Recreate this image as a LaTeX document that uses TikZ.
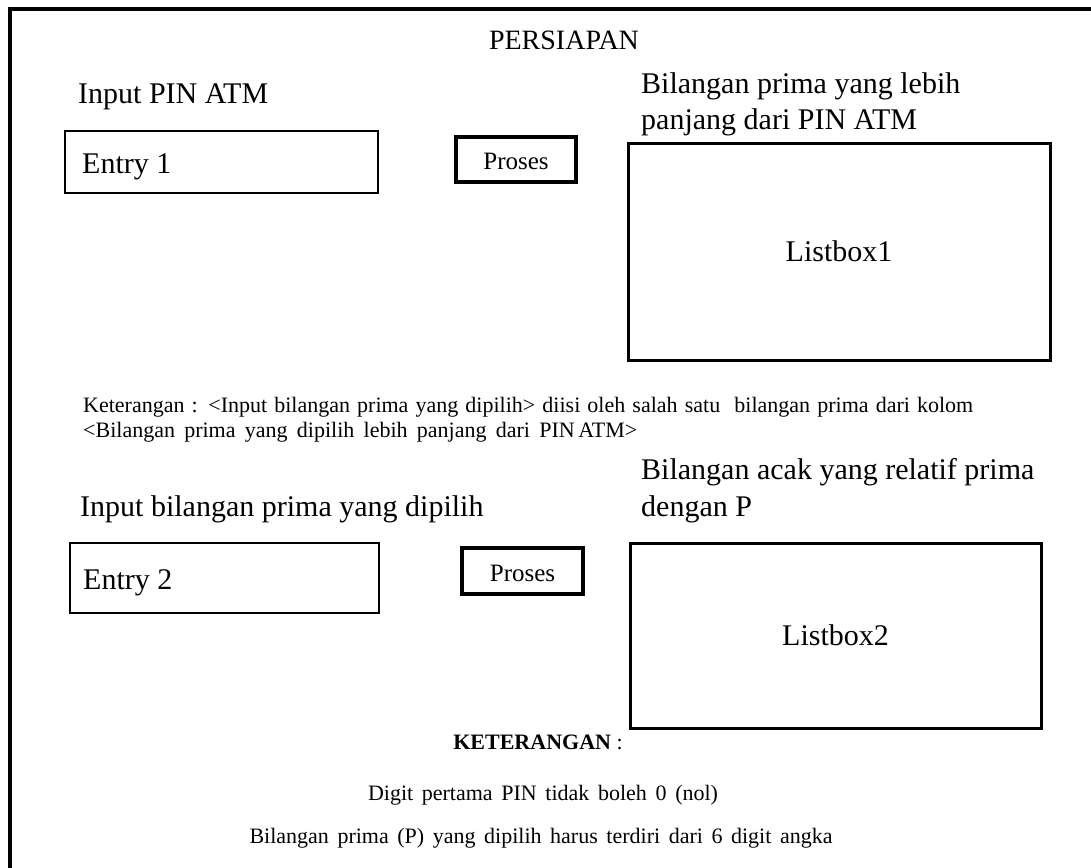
\documentclass[tikz,border=0pt]{standalone}
\usepackage{fontspec}
\setmainfont{Liberation Serif}
\begin{document}
\begin{tikzpicture}[x=1pt,y=-1pt,
  big/.style={inner sep=0pt, font=\fontsize{30}{36}\selectfont},
  mid/.style={inner sep=0pt, font=\fontsize{25}{30}\selectfont},
  small/.style={inner sep=0pt, font=\fontsize{22}{26}\selectfont},
  entrybox/.style={draw, line width=2pt, inner sep=0pt},
  btnbox/.style={draw, line width=3.5pt, inner sep=0pt},
  listbox/.style={draw, line width=3pt, inner sep=0pt, font=\fontsize{30}{36}\selectfont},
  frameline/.style={line width=4pt}]
\useasboundingbox (0,0) rectangle (1091,867);
\clip (0,0) rectangle (1091,867);
\fill[white] (0,0) rectangle (1091,867);

% outer window frame
\draw[frameline] (10,9.5) rectangle (1120,900);

\node[inner sep=0pt, font=\fontsize{28}{32}\selectfont, anchor=base] (title) at (564,49) {PERSIAPAN};

% first row
\node[big, anchor=base west] (lblpin) at (78,103) {Input PIN ATM};
\node[entrybox, minimum width=313pt, minimum height=62pt] (entry1) at (221.5,162) {};
\node[big, anchor=base west] (entry1txt) at (82,173) {Entry 1};
\node[btnbox, minimum width=120pt, minimum height=45pt] (btn1) at (516,159.5) {};
\node[mid, anchor=base] (btn1txt) at (516,169) {Proses};
\node[big, anchor=base west] (lblprima1) at (641,93) {Bilangan prima yang lebih};
\node[big, anchor=base west] (lblprima2) at (641,129) {panjang dari PIN ATM};
\node[listbox, minimum width=422pt, minimum height=217pt] (list1) at (839,251.5) {Listbox1};

% note between the rows
\node[small, anchor=base west] (note1) at (83,412)
  {\makebox[890pt][s]{Keterangan : <Input bilangan prima yang dipilih> diisi oleh salah satu \ bilangan prima dari kolom}};
\node[small, anchor=base west] (note2) at (83,437)
  {\makebox[554pt][s]{<Bilangan prima yang dipilih lebih panjang dari PIN\,ATM>}};

% second row
\node[big, anchor=base west] (lblacak1) at (641,479) {Bilangan acak yang relatif prima};
\node[big, anchor=base west] (lblacak2) at (641,516) {dengan P};
\node[big, anchor=base west] (lblpilih) at (80,516) {Input bilangan prima yang dipilih};
\node[entrybox, minimum width=309pt, minimum height=70pt] (entry2) at (224.5,578) {};
\node[big, anchor=base west] (entry2txt) at (83,589) {Entry 2};
\node[btnbox, minimum width=121pt, minimum height=46pt] (btn2) at (522.5,571) {};
\node[mid, anchor=base] (btn2txt) at (522.5,581) {Proses};
\node[listbox, minimum width=411pt, minimum height=185pt] (list2) at (835.5,635.5) {Listbox2};

% footer notes
\node[small, anchor=base] (ket) at (538,749) {\textbf{KETERANGAN} :};
\node[small, anchor=base] (rule1) at (543,800)
  {\makebox[350pt][s]{Digit pertama PIN tidak boleh 0 (nol)}};
\node[small, anchor=base] (rule2) at (541,843)
  {\makebox[583pt][s]{Bilangan prima (P) yang dipilih harus terdiri dari 6 digit angka}};
\end{tikzpicture}
\end{document}
